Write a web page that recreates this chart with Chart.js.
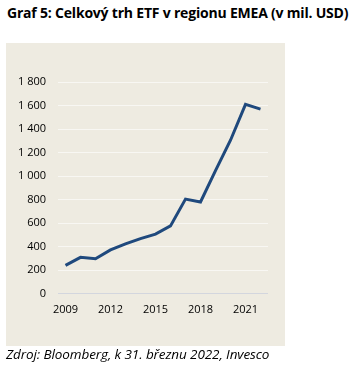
<!DOCTYPE html>
<html>
<head>
<meta charset="utf-8">
<script src="https://cdn.jsdelivr.net/npm/chart.js@4/dist/chart.umd.min.js"></script>
<style>
  body { margin: 0; background: #fff; width: 352px; height: 365px; position: relative; font-family: "Open Sans", "Liberation Sans", sans-serif; }
  #title { position: absolute; left: 7px; top: 3px; font-size: 14px; font-weight: bold; color: #000; white-space: nowrap; letter-spacing: -0.2px; }
  #panel { position: absolute; left: 6px; top: 43px; width: 279px; height: 303px; background: #EEEBE1; }
  #footer { position: absolute; left: 6px; top: 345px; font-size: 13.5px; font-style: italic; color: #000; white-space: nowrap; letter-spacing: -0.1px; }
</style>
</head>
<body>
<div id="title">Graf 5: Celkový trh ETF v regionu EMEA (v mil. USD)</div>
<div id="panel"><canvas id="chart" width="279" height="303"></canvas></div>
<div id="footer">Zdroj: Bloomberg, k 31. březnu 2022, Invesco</div>
<script>
// roky a hodnoty (mil. USD)
const years = ['2009', '2010', '2011', '2012', '2013', '2014', '2015', '2016', '2017', '2018', '2019', '2020', '2021', '2022'];
const etfValues = [242, 310, 298, 373, 424, 469, 507, 577, 805, 780, 1047, 1305, 1610, 1570];
const yTicks = [0, 200, 400, 600, 800, 1000, 1200, 1400, 1600, 1800];

new Chart(document.getElementById('chart'), {
    type: 'line',
    data: {
        labels: years,
        datasets: [{
            data: etfValues,
            borderColor: '#1F497D',
            borderWidth: 3,
            pointRadius: 0,
            tension: 0,
            fill: false
        }]
    },
    options: {
        responsive: false,
        animation: false,
        plugins: { legend: { display: false }, tooltip: { enabled: false } },
        layout: { padding: { left: 0, right: 17, top: 39, bottom: 29 } },
        scales: {
            x: {
                offset: true,
                grid: { display: false },
                border: { display: false },
                ticks: {
                    autoSkip: false,
                    maxRotation: 0,
                    color: '#000',
                    font: { size: 11, family: '"Open Sans", sans-serif' },
                    padding: 1,
                    callback: function(v, i) { return i % 3 === 0 ? years[i] : ''; }
                }
            },
            y: {
                min: 0,
                max: 1800,
                afterBuildTicks: function(axis) { axis.ticks = yTicks.map(v => ({ value: v })); },
                afterFit: function(axis) { axis.width = 52; },
                grid: {
                    drawTicks: false,
                    lineWidth: 1,
                    color: ctx => ctx.tick.value === 0 ? '#D3D6DE' : '#F8F7F3'
                },
                border: { display: false },
                ticks: {
                    color: '#000',
                    font: { size: 11, family: '"Open Sans", sans-serif' },
                    padding: 12,
                    callback: v => String(v).replace(/\B(?=(\d{3})+(?!\d))/g, ' ')
                }
            }
        }
    }
});
</script>
</body>
</html>
